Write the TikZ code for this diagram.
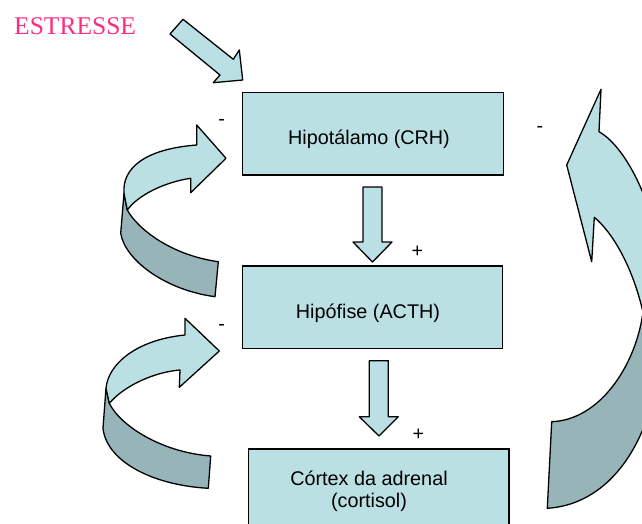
\documentclass[tikz,border=0pt]{standalone}
\usepackage{fontspec}
\setmainfont{Liberation Sans}
\newfontfamily\serifest{Liberation Serif}
\definecolor{lightb}{HTML}{BBE0E3}
\definecolor{darkb}{HTML}{97B5B8}
\definecolor{pinkest}{HTML}{FF2D82}
\begin{document}
\begin{tikzpicture}[x=1pt,y=-1pt,
 box/.style={draw=black, line width=1.3pt, fill=lightb, minimum width=260.6pt, minimum height=82.3pt, inner sep=0pt},
 lbl/.style={font=\fontsize{19.8}{22}\selectfont, inner sep=0pt, align=center},
 sgn/.style={font=\fontsize{19.8}{24}\selectfont, inner sep=0pt},
 arrshape/.style={draw=black, line width=1.3pt, line join=round, fill=lightb},
 darkshape/.style={draw=black, line width=1.3pt, line join=round, fill=darkb}]
\useasboundingbox (0,0) rectangle (642,524);
\clip (0,0) rectangle (642,524);

% boxes
\node[box] (hyp) at (373,133.9) {};
\node[box] (pit) at (372.5,307) {};
\node[box, minimum height=92pt] (adr) at (378.7,495) {};
\node[lbl] (thyp) at (369,139) {Hipotálamo (CRH)};
\node[lbl] (tpit) at (368,313) {Hipófise (ACTH)};
\node[lbl] (tadr) at (369,491) {Córtex da adrenal\\(cortisol)};

% stress label and arrow
\node[font=\serifest\fontsize{25.5}{30}\selectfont, text=pinkest, anchor=west, inner sep=0pt] (est) at (14,26) {ESTRESSE};
\draw[arrshape] (170,34) -- (183,19.3) -- (233.3,59.3) -- (239.3,50) -- (242.7,80) -- (213.3,82.7) -- (220,75) -- cycle;

% down arrows
\draw[arrshape] (363,187) -- (382,187) -- (382,242) -- (392,242) -- (372.5,262) -- (353,242) -- (363,242) -- cycle;
\draw[arrshape] (369.3,360.7) -- (388.3,360.7) -- (388.3,416.7) -- (398.3,416.7) -- (379,436) -- (359.3,416.7) -- (369.3,416.7) -- cycle;

% upper-left curved arrow
\draw[darkshape] (124,193.3) -- (120.7,233.3) .. controls (125,260) and (165,290) .. (215,296.7) -- (218.3,261.7) .. controls (170,255) and (137,228) .. (127.3,210) -- cycle;
\draw[arrshape] (124,193.3) .. controls (122,168) and (145,149) .. (196.7,145) -- (196.7,125) -- (226,158.3) -- (190.7,192.7) -- (190.7,178.3) .. controls (165,182) and (138,195) .. (127.3,210) -- cycle;

% lower-left curved arrow
\draw[darkshape] (106,388.3) -- (103,428) .. controls (106,460) and (150,485) .. (208.3,488.3) -- (210.7,456) .. controls (160,452) and (120,425) .. (109.3,403.3) -- cycle;
\draw[arrshape] (106,388.3) .. controls (108,365) and (135,340) .. (185,335) -- (185,318.3) -- (219.3,351) -- (179.3,387.3) -- (180,370) .. controls (155,372) and (125,385) .. (109.3,403.3) -- cycle;

% right curved arrow
\draw[darkshape] (643,312) .. controls (636,365) and (600,420) .. (551.7,421.7) -- (547.3,508.3) .. controls (600,505) and (640,460) .. (655,390) .. controls (662,360) and (665,330) .. (665,300) -- cycle;
\draw[arrshape] (599,131.7) .. controls (628,148) and (662,215) .. (665,300) -- (643,312) .. controls (632,265) and (612,232) .. (594.3,217.3) -- (591.7,261.7) -- (566.7,165) -- (601,89.3) -- cycle;

% signs
\node[sgn] (m1) at (221.7,122.3) {-};
\node[sgn] (m2) at (221.7,327.3) {-};
\node[sgn] (m3) at (540,129.5) {-};
\node[sgn] (p1) at (417.3,251.7) {+};
\node[sgn] (p2) at (418.3,434.3) {+};
\end{tikzpicture}
\end{document}
